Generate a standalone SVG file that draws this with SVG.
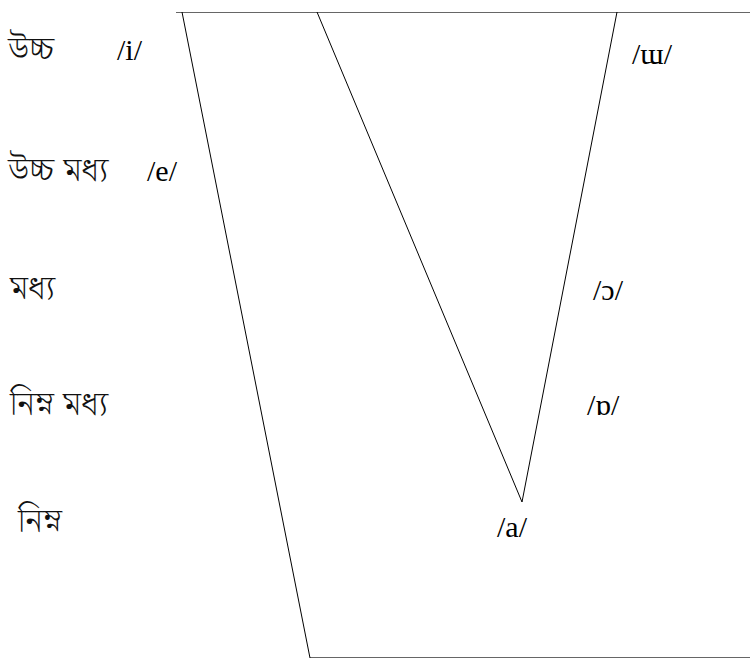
<svg xmlns="http://www.w3.org/2000/svg" width="750" height="659" viewBox="0 0 750 659">
<style>
.bn{font-family:"Noto Serif Bengali","Noto Sans Bengali","Lohit Bengali","Lohit Assamese","FreeSerif","Liberation Serif",serif;font-size:34px;font-weight:300;fill:#111}
.ipa{font-family:"Liberation Serif","Times New Roman",serif;font-size:30px;fill:#000}
.ln{stroke:#000;stroke-width:1;fill:none}
.gr{stroke:#666;stroke-width:1.2;fill:none}
</style>
<rect width="750" height="659" fill="#fff"/>
<g id="connectors">
<line class="gr" x1="176" y1="12.5" x2="750" y2="12.5"/>
<line class="gr" x1="310" y1="657.5" x2="750" y2="657.5"/>
<line class="ln" x1="182" y1="12" x2="310" y2="658"/>
<polyline class="ln" points="317,12 522,502 617,12"/>
</g>
<g id="label-high"><text class="bn" x="8" y="60">উচ্চ</text></g>
<g id="label-high-mid"><text class="bn" x="8" y="181">উচ্চ মধ্য</text></g>
<g id="label-mid"><text class="bn" x="10" y="299">মধ্য</text></g>
<g id="label-low-mid"><text class="bn" x="10" y="415">নিম্ন মধ্য</text></g>
<g id="label-low"><text class="bn" x="18" y="532">নিম্ন</text></g>
<g id="v-i"><text class="ipa" x="117" y="60">/i/</text></g>
<g id="v-e"><text class="ipa" x="147" y="181">/e/</text></g>
<g id="v-u"><text class="ipa" x="632" y="64">/ɯ/</text></g>
<g id="v-o"><text class="ipa" x="593" y="300">/ɔ/</text></g>
<g id="v-oo"><text class="ipa" x="587" y="415">/ɒ/</text></g>
<g id="v-a"><text class="ipa" x="497" y="537">/a/</text></g>
</svg>
